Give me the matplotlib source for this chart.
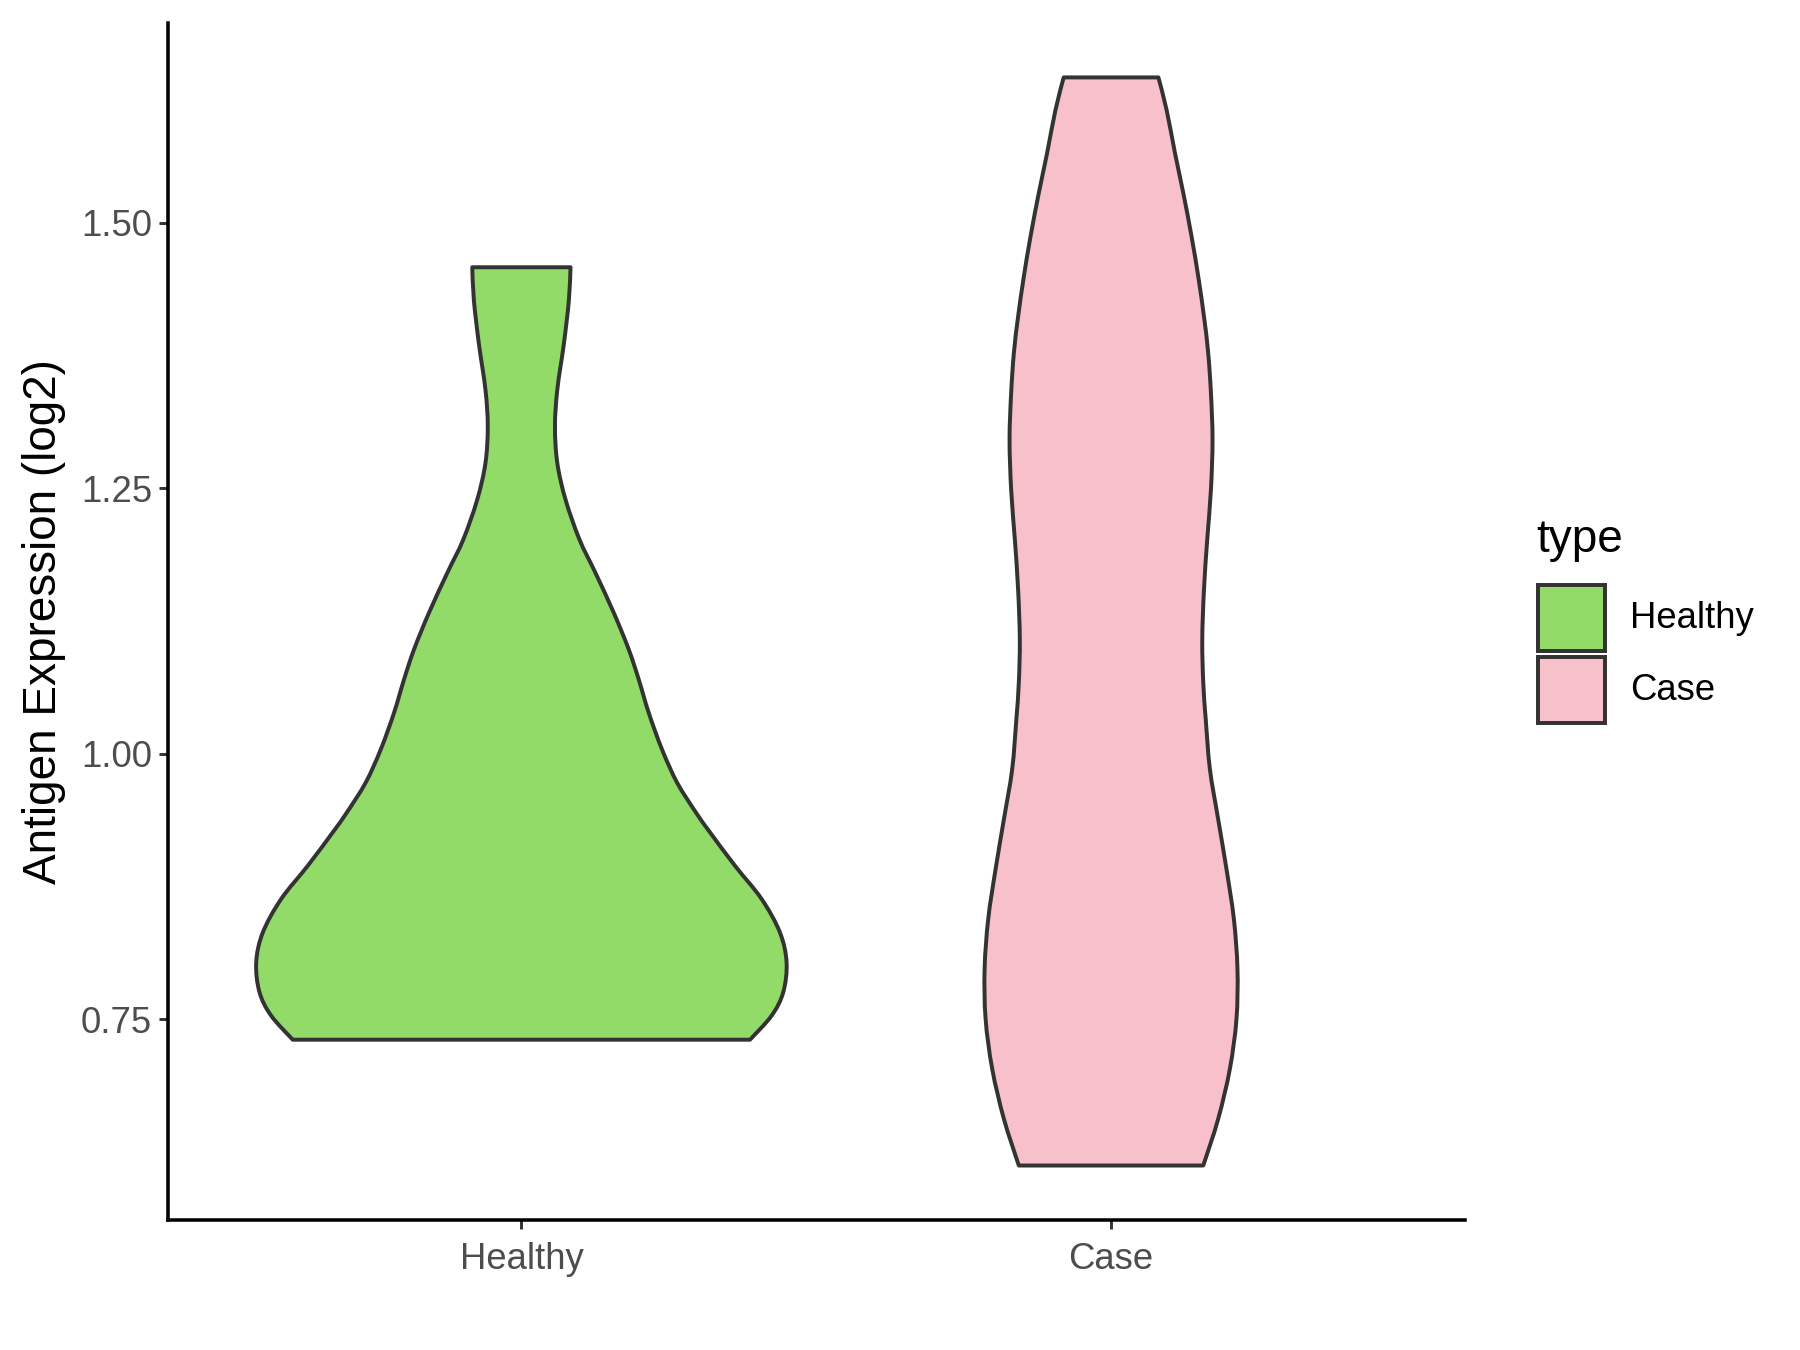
import numpy as np
import matplotlib
matplotlib.use("Agg")
import matplotlib.pyplot as plt
from matplotlib.patches import Rectangle, PathPatch
from matplotlib.path import Path

plt.rcParams['font.family'] = ['Liberation Sans', 'DejaVu Sans']

categories = ["Healthy", "Case"]
colors = ["#93DB69", "#F8C0CB"]
edge = "#333333"

# violin outlines: expression value and half-width (x units)
healthy_y = [1.458, 1.4273, 1.3865, 1.3426, 1.3081, 1.2737, 1.2391, 1.2015, 1.1702,
             1.1326, 1.0980, 1.0698, 1.0385, 1.0040, 0.9727, 0.9445, 0.9257, 0.8943,
             0.8630, 0.8316, 0.8034, 0.7752, 0.7531, 0.7305]
healthy_w = [0.0833, 0.0806, 0.0722, 0.0609, 0.0570, 0.0609, 0.0749, 0.0986, 0.1256,
             0.1567, 0.1821, 0.1990, 0.2159, 0.2384, 0.2640, 0.2960, 0.3200, 0.3623,
             0.4074, 0.4384, 0.4497, 0.4441, 0.4243, 0.3877]
case_y = [1.6368, 1.6060, 1.5653, 1.5277, 1.4868, 1.4492, 1.4116, 1.3771, 1.3395,
          1.2956, 1.2485, 1.2015, 1.1545, 1.1074, 1.0667, 1.0322, 0.9851, 0.9381,
          0.8911, 0.8441, 0.7970, 0.7500, 0.7030, 0.6559, 0.6120]
case_w = [0.0803, 0.0943, 0.1085, 0.1226, 0.1366, 0.1479, 0.1576, 0.1648, 0.1694,
          0.1721, 0.1694, 0.1631, 0.1576, 0.1547, 0.1564, 0.1606, 0.1677, 0.1817,
          0.1958, 0.2083, 0.2144, 0.2127, 0.2015, 0.1817, 0.1564]

yticks = [0.75, 1.00, 1.25, 1.50]
ytick_labels = ["0.75", "1.00", "1.25", "1.50"]


def smooth_side(xs, ys):
    """Bezier (CURVE4) path pieces passing through the given outline points."""
    pts = np.column_stack([xs, ys])
    verts = [pts[0]]
    codes = []
    n = len(pts)
    for k in range(n - 1):
        p0 = pts[k - 1] if k > 0 else pts[k]
        p1 = pts[k]
        p2 = pts[k + 1]
        p3 = pts[k + 2] if k + 2 < n else pts[k + 1]
        c1 = p1 + (p2 - p0) / 6.0
        c2 = p2 - (p3 - p1) / 6.0
        verts += [c1, c2, p2]
        codes += [Path.CURVE4] * 3
    return verts, codes


fig = plt.figure(figsize=(12, 9), dpi=150)
ax = fig.add_axes([0.0931, 0.0963, 0.8138 - 0.0931, 0.983 - 0.0963])

profiles = [(healthy_y, healthy_w), (case_y, case_w)]
for i, (ys, ws) in enumerate(profiles):
    pos = i + 1
    ys = np.array(ys)
    ws = np.array(ws)
    lv, lc = smooth_side(pos - ws, ys)
    rv, rc = smooth_side((pos + ws)[::-1], ys[::-1])
    verts = lv + rv + [lv[0]]
    codes = [Path.MOVETO] + lc + [Path.LINETO] + rc + [Path.CLOSEPOLY]
    patch = PathPatch(Path(np.array(verts), codes), facecolor=colors[i],
                      edgecolor=edge, linewidth=1.9, joinstyle='round', zorder=2)
    ax.add_patch(patch)

ax.set_xlim(0.4, 2.6)
ax.set_ylim(0.5607, 1.6881)
ax.set_xticks([1, 2])
ax.set_xticklabels(categories)
ax.set_yticks(yticks)
ax.set_yticklabels(ytick_labels)

for s in ["top", "right"]:
    ax.spines[s].set_visible(False)
for s in ["left", "bottom"]:
    ax.spines[s].set_linewidth(1.7)
    ax.spines[s].set_color("black")

ax.tick_params(axis='both', length=4.5, width=1.4, color=edge,
               labelsize=17.5, labelcolor="#4D4D4D", pad=3)
ax.tick_params(axis='x', pad=6)
ax.set_ylabel("Antigen Expression (log2)", fontsize=22, color="black", labelpad=7)

# legend
fig.text(1536 / 1800, 1 - 540 / 1350, "type", fontsize=22, color="black",
         ha="left", va="center")
key_x = 1538 / 1800
key_w = 67 / 1800
key_h = 66 / 1350
key_tops = [585, 657]
for i, lab in enumerate(categories):
    top = key_tops[i]
    fig.add_artist(Rectangle((key_x, 1 - (top + 66) / 1350), key_w, key_h,
                             transform=fig.transFigure, facecolor=colors[i],
                             edgecolor=edge, linewidth=1.9))
    fig.text(1630 / 1800, 1 - (top + 33) / 1350, lab, fontsize=17.5,
             color="black", ha="left", va="center")

fig.savefig("out.png", dpi=150)
